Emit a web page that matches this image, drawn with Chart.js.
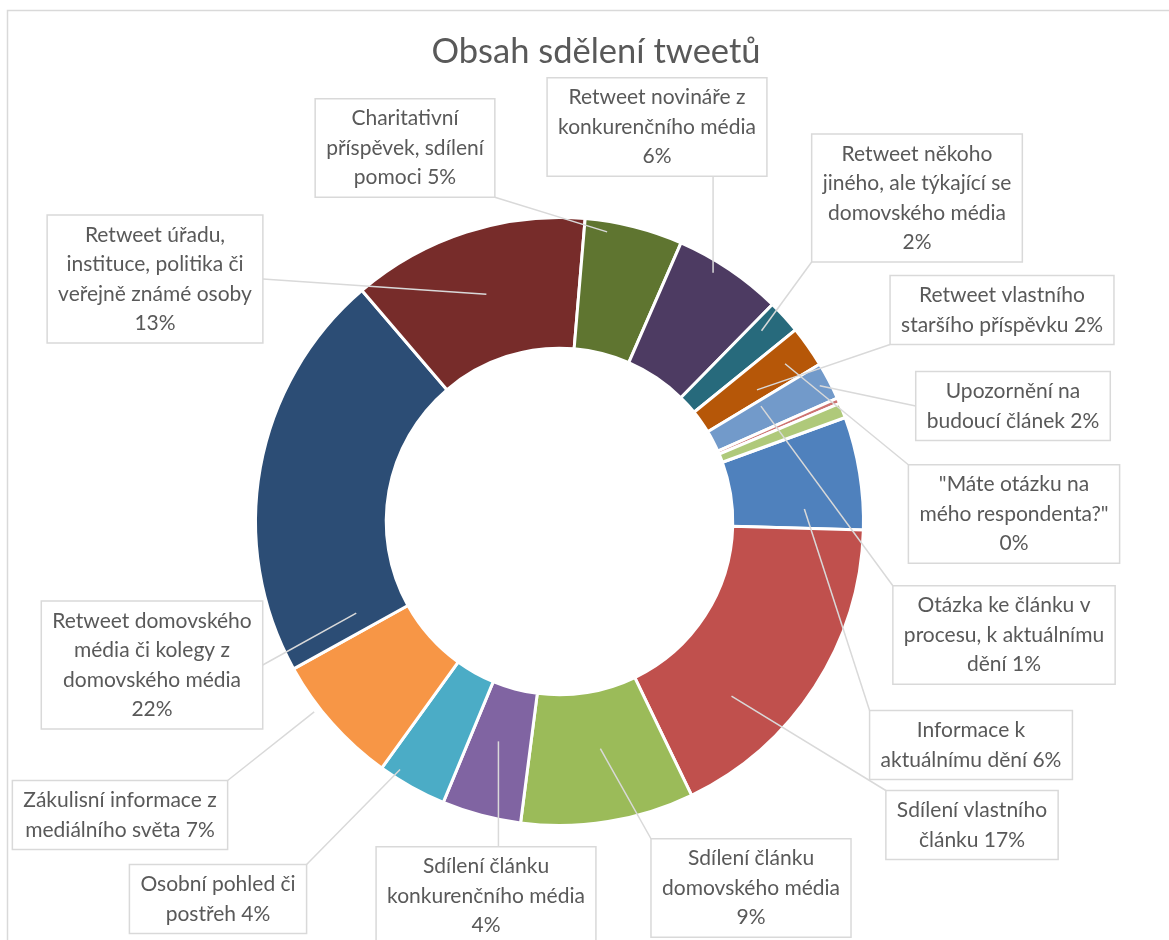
<!DOCTYPE html>
<html lang="cs">
<head>
<meta charset="utf-8">
<title>Obsah sdělení tweetů</title>
<script src="https://cdn.jsdelivr.net/npm/chart.js@4.4.1/dist/chart.umd.min.js"></script>
<style>
  html, body { margin: 0; padding: 0; background: #ffffff; }
  #wrap { position: relative; width: 1169px; height: 940px; overflow: hidden; }
</style>
</head>
<body>
<div id="wrap"><canvas id="tweetChart" width="1169" height="940"></canvas></div>
<script>
// Data (share of tweets in %)
const chartTitle = 'Obsah sdělení tweetů';

const categories = [
    'Informace k aktuálnímu dění',
    'Sdílení vlastního článku',
    'Sdílení článku domovského média',
    'Sdílení článku konkurenčního média',
    'Osobní pohled či postřeh',
    'Zákulisní informace z mediálního světa',
    'Retweet domovského média či kolegy z domovského média',
    'Retweet úřadu, instituce, politika či veřejně známé osoby',
    'Charitativní příspěvek, sdílení pomoci',
    'Retweet novináře z konkurenčního média',
    'Retweet někoho jiného, ale týkající se domovského média',
    'Retweet vlastního staršího příspěvku',
    'Upozornění na budoucí článek',
    '"Máte otázku na mého respondenta?"',
    'Otázka ke článku v procesu, k aktuálnímu dění'
];

const shares = [6.0, 17.4, 9.2, 4.2, 3.7, 7.0, 21.8, 12.6, 5.2, 5.8, 1.8, 2.2, 2.0, 0.3, 0.8];

const sliceColors = [
    '#4F81BD', '#C0504D', '#9BBB59', '#8064A2', '#4BACC6', '#F79646',
    '#2C4D75', '#772C2A', '#5F7530', '#4D3B62', '#276A7C', '#B65708',
    '#729ACA', '#CD7371', '#AFC97A'
];

// Label layout: words per line, box centre, and where the leader line ends
// [position along the slice angle (0 = start, 1 = end), depth in ring (0 = inner, 1 = outer)]
const labelWords = [
    [2, 3], [2, 2], [2, 2, 1], [2, 2, 1], [3, 2], [3, 3], [2, 4, 2, 1], [2, 3, 3, 1],
    [1, 2, 2], [3, 2, 1], [2, 4, 2, 1], [2, 3], [2, 3], [3, 2, 1], [4, 3, 2]
];
const labelCentres = [
    [971, 745], [972, 825], [751, 888], [486, 896], [218, 899], [120, 815], [152, 665], [155, 279],
    [405, 148], [657, 127], [917, 198], [1002, 310], [1013, 406], [1014, 514], [1004, 635]
];
const leaderSpot = [
    [0.79, 0.55], [0.70, 0.55], [0.47, 0.44], [0.54, 0.42], [0.77, 0.93], [0.65, 1.05],
    [0.06, 0.38], [0.50, 0.50], [0.24, 0.92], [0.39, 0.91], [0.34, 0.80], [0.68, 0.49],
    [0.50, 0.92], [-10.2, 0.78], [-2.4, 0.45]
];

const textColor = '#595959';
const labelFont = '21px Lato';
const titleFont = '34.5px Lato';
const lineHeight = 29.5;

function percentText(i) {
    const total = shares.reduce((a, b) => a + b, 0);
    return Math.round(shares[i] / total * 100) + '%';
}

function labelLines(i) {
    const words = (categories[i] + ' ' + percentText(i)).split(' ');
    const lines = [];
    let pos = 0;
    labelWords[i].forEach(n => {
        lines.push(words.slice(pos, pos + n).join(' '));
        pos += n;
    });
    if (pos < words.length) lines.push(words.slice(pos).join(' '));
    return lines;
}

// Callout boxes, leader lines, frame and title
const calloutPlugin = {
    id: 'callouts',
    beforeDraw(chart) {
        const ctx = chart.ctx;
        ctx.save();
        ctx.strokeStyle = '#d9d9d9';
        ctx.lineWidth = 1.5;
        ctx.strokeRect(7.5, 10.5, 1300, 1100);
        ctx.fillStyle = textColor;
        ctx.font = titleFont;
        ctx.textAlign = 'center';
        ctx.textBaseline = 'middle';
        ctx.fillText(chartTitle, 596, 52);
        ctx.restore();
    },
    afterDatasetsDraw(chart) {
        const ctx = chart.ctx;
        const meta = chart.getDatasetMeta(0);
        ctx.save();
        ctx.font = labelFont;

        const boxes = meta.data.map((arc, i) => {
            const lines = labelLines(i);
            const w = Math.max(...lines.map(l => ctx.measureText(l).width)) + 22;
            const h = lines.length * lineHeight + 10;
            const [cx, cy] = labelCentres[i];
            return { lines, x: cx - w / 2, y: cy - h / 2, w, h };
        });

        // leader lines first, boxes are drawn on top
        ctx.strokeStyle = '#d9d9d9';
        ctx.lineWidth = 1.5;
        meta.data.forEach((arc, i) => {
            const p = arc.getProps(['x', 'y', 'startAngle', 'endAngle', 'innerRadius', 'outerRadius'], true);
            const [along, depth] = leaderSpot[i];
            const ang = p.startAngle + (p.endAngle - p.startAngle) * along;
            const r = p.innerRadius + (p.outerRadius - p.innerRadius) * depth;
            const ax = p.x + Math.cos(ang) * r;
            const ay = p.y + Math.sin(ang) * r;
            const b = boxes[i];
            let bx, by;
            if (ay > b.y && ay < b.y + b.h) {
                // beside the box: attach to the middle of the side
                bx = ax < b.x ? b.x : b.x + b.w;
                by = b.y + b.h / 2;
            } else {
                bx = Math.min(Math.max(ax, b.x), b.x + b.w);
                by = Math.min(Math.max(ay, b.y), b.y + b.h);
            }
            ctx.beginPath();
            ctx.moveTo(bx, by);
            ctx.lineTo(ax, ay);
            ctx.stroke();
        });

        boxes.forEach(b => {
            ctx.fillStyle = '#ffffff';
            ctx.fillRect(b.x, b.y, b.w, b.h);
            ctx.strokeStyle = '#d9d9d9';
            ctx.lineWidth = 1.5;
            ctx.strokeRect(b.x, b.y, b.w, b.h);
            ctx.fillStyle = textColor;
            ctx.textAlign = 'center';
            ctx.textBaseline = 'middle';
            b.lines.forEach((line, k) => {
                ctx.fillText(line, b.x + b.w / 2, b.y + 5 + lineHeight * (k + 0.5));
            });
        });
        ctx.restore();
    }
};

const chart = new Chart(document.getElementById('tweetChart'), {
    type: 'doughnut',
    data: {
        labels: categories,
        datasets: [{
            data: shares,
            backgroundColor: sliceColors,
            borderColor: '#ffffff',
            borderWidth: 3
        }]
    },
    options: {
        responsive: false,
        animation: false,
        rotation: 70,
        cutout: '57%',
        layout: {
            padding: { left: 254, right: 304, top: 216, bottom: 113 }
        },
        plugins: {
            legend: { display: false },
            tooltip: { enabled: false },
            title: { display: false }
        }
    },
    plugins: [calloutPlugin]
});
</script>
</body>
</html>
